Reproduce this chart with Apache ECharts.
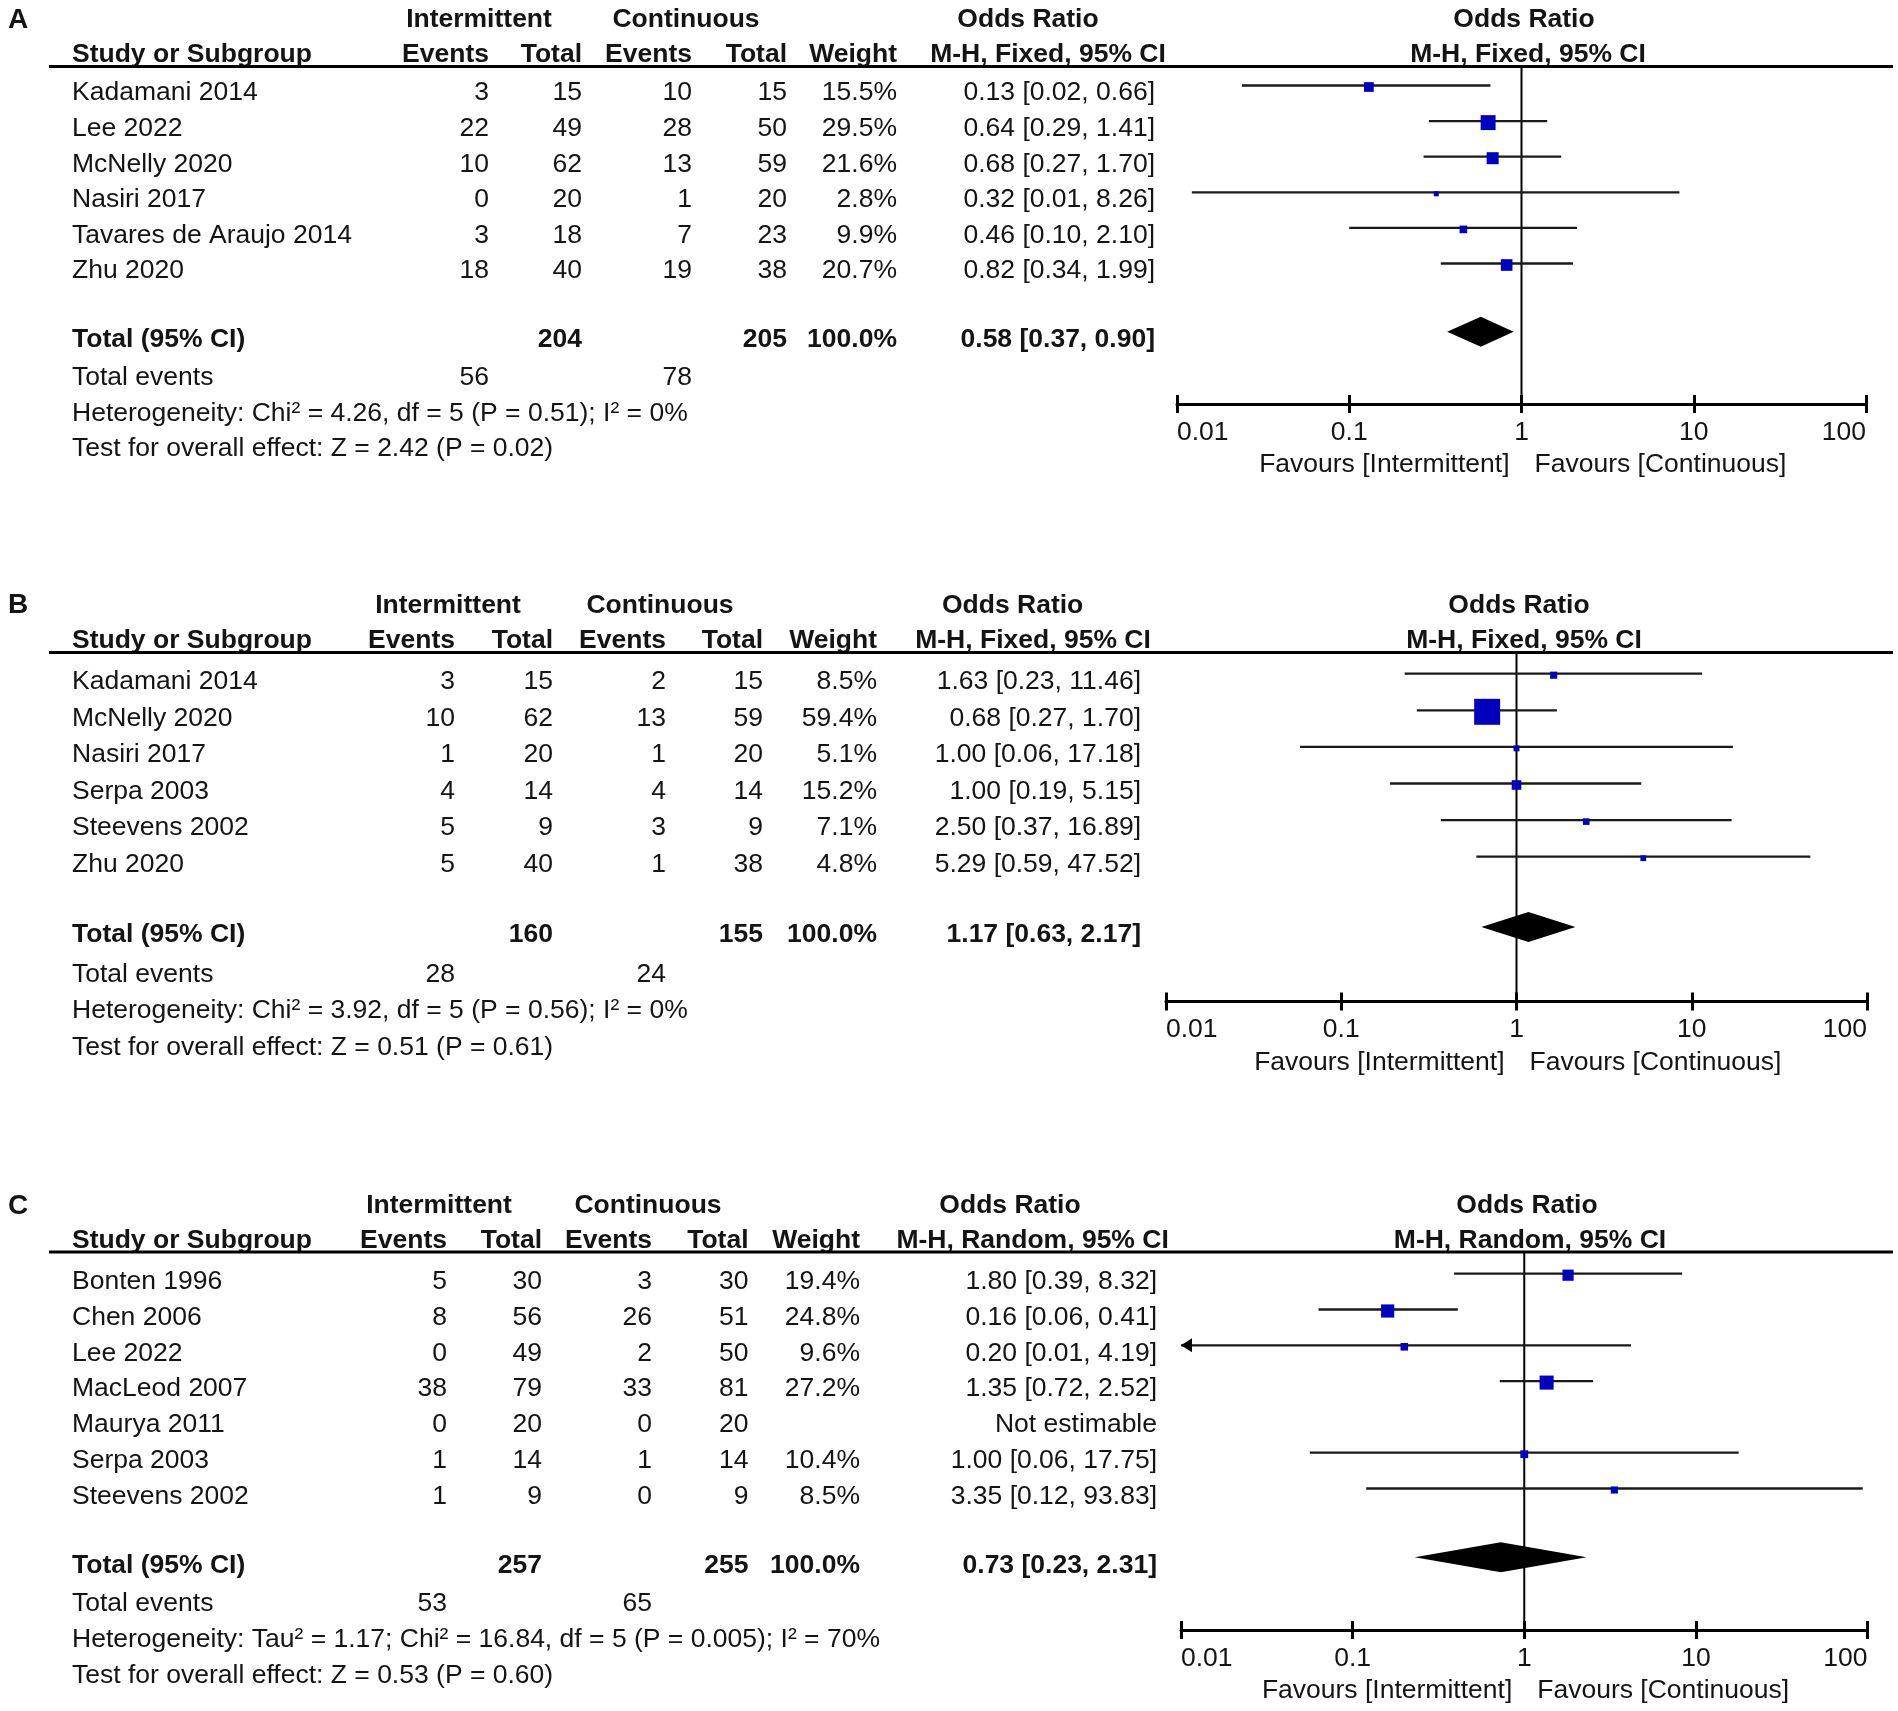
<!DOCTYPE html>
<html>
<head>
<meta charset="utf-8">
<script src="https://cdn.jsdelivr.net/npm/echarts@6/dist/echarts.min.js"></script>
<style>
html,body{margin:0;padding:0;background:#ffffff;}
#chart{width:1898px;height:1711px;}
</style>
</head>
<body>
<div id="chart"></div>
<script>
// ===================== DATA =====================
// Panel A
const studiesA = ['Kadamani 2014','Lee 2022','McNelly 2020','Nasiri 2017','Tavares de Araujo 2014','Zhu 2020'];
const intEventsA = [3,22,10,0,3,18];
const intTotalA = [15,49,62,20,18,40];
const conEventsA = [10,28,13,1,7,19];
const conTotalA = [15,50,59,20,23,38];
const weightA = [15.5,29.5,21.6,2.8,9.9,20.7];
const orA = [0.13,0.64,0.68,0.32,0.46,0.82];
const loA = [0.0238,0.29,0.27,0.0122,0.10,0.34];
const hiA = [0.66,1.41,1.70,8.26,2.10,1.99];
const totalsA = [204,205];
const totalEventsA = [56,78];
const pooledA = [0.58,0.37,0.90];
const hetA = 'Heterogeneity: Chi² = 4.26, df = 5 (P = 0.51); I² = 0%';
const testA = 'Test for overall effect: Z = 2.42 (P = 0.02)';
const methodA = 'M-H, Fixed, 95% CI';

// Panel B
const studiesB = ['Kadamani 2014','McNelly 2020','Nasiri 2017','Serpa 2003','Steevens 2002','Zhu 2020'];
const intEventsB = [3,10,1,4,5,5];
const intTotalB = [15,62,20,14,9,40];
const conEventsB = [2,13,1,4,3,1];
const conTotalB = [15,59,20,14,9,38];
const weightB = [8.5,59.4,5.1,15.2,7.1,4.8];
const orB = [1.63,0.68,1.00,1.00,2.50,5.29];
const loB = [0.23,0.27,0.0582,0.19,0.37,0.59];
const hiB = [11.46,1.70,17.18,5.15,16.89,47.52];
const totalsB = [160,155];
const totalEventsB = [28,24];
const pooledB = [1.17,0.63,2.17];
const hetB = 'Heterogeneity: Chi² = 3.92, df = 5 (P = 0.56); I² = 0%';
const testB = 'Test for overall effect: Z = 0.51 (P = 0.61)';
const methodB = 'M-H, Fixed, 95% CI';

// Panel C
const studiesC = ['Bonten 1996','Chen 2006','Lee 2022','MacLeod 2007','Maurya 2011','Serpa 2003','Steevens 2002'];
const intEventsC = [5,8,0,38,0,1,1];
const intTotalC = [30,56,49,79,20,14,9];
const conEventsC = [3,26,2,33,0,1,0];
const conTotalC = [30,51,50,81,20,14,9];
const weightC = [19.4,24.8,9.6,27.2,null,10.4,8.5];
const orC = [1.80,0.16,0.20,1.35,null,1.00,3.35];
const loC = [0.39,0.0633,0.0092,0.72,null,0.0563,0.12];
const hiC = [8.32,0.41,4.19,2.52,null,17.75,93.83];
const totalsC = [257,255];
const totalEventsC = [53,65];
const pooledC = [0.73,0.23,2.31];
const hetC = 'Heterogeneity: Tau² = 1.17; Chi² = 16.84, df = 5 (P = 0.005); I² = 70%';
const testC = 'Test for overall effect: Z = 0.53 (P = 0.60)';
const methodC = 'M-H, Random, 95% CI';

// Shared labels
const panelLetters = ['A','B','C'];
const groupHeaders = ['Intermittent','Continuous'];
const colHeaders = ['Study or Subgroup','Events','Total','Events','Total','Weight'];
const effectHeader = 'Odds Ratio';
const tickLabels = ['0.01','0.1','1','10','100'];
const favoursLabels = ['Favours [Intermittent]','Favours [Continuous]'];
const notEstimable = 'Not estimable';

// ===================== LAYOUT / STYLE =====================
const FONT = "'Liberation Sans', Arial, Helvetica, sans-serif";
const TXT = '#141414';
const BLUE = '#0000BE';
const FS = 26.5;
const NAME_X = 72;
const RULE_X0 = 49, RULE_X1 = 1893;

const layouts = [
  {letterY:20, lineY:66.5, axisY:404, x0:1177, x1:1866, row0:93, gap:35.6, off:7.5,
   cols:{ev1:489,tot1:582,ev2:692,tot2:787,wt:897,or:1155},
   hdr:{int:479,con:686,or:1028,mh:1048,ror:1524,rmh:1528}},
  {letterY:605, lineY:652.5, axisY:1001.5, x0:1166, x1:1867, row0:681.7, gap:36.6, off:8,
   cols:{ev1:455,tot1:553,ev2:666,tot2:763,wt:877,or:1141},
   hdr:{int:448,con:660,or:1012.6,mh:1033,ror:1519,rmh:1524}},
  {letterY:1206, lineY:1252, axisY:1630, x0:1181, x1:1867.5, row0:1281.7, gap:35.8, off:8,
   cols:{ev1:447,tot1:542,ev2:652,tot2:748.5,wt:860,or:1157},
   hdr:{int:439,con:648,or:1010,mh:1032.6,ror:1527,rmh:1530}}
];

const panels = [
  {studies:studiesA, ie:intEventsA, it:intTotalA, ce:conEventsA, ct:conTotalA, w:weightA, or:orA, lo:loA, hi:hiA,
   totals:totalsA, tev:totalEventsA, pooled:pooledA, het:hetA, test:testA, method:methodA},
  {studies:studiesB, ie:intEventsB, it:intTotalB, ce:conEventsB, ct:conTotalB, w:weightB, or:orB, lo:loB, hi:hiB,
   totals:totalsB, tev:totalEventsB, pooled:pooledB, het:hetB, test:testB, method:methodB},
  {studies:studiesC, ie:intEventsC, it:intTotalC, ce:conEventsC, ct:conTotalC, w:weightC, or:orC, lo:loC, hi:hiC,
   totals:totalsC, tev:totalEventsC, pooled:pooledC, het:hetC, test:testC, method:methodC}
];

const AX_MIN = 0.01, AX_MAX = 100;
const squareSize = w => 4 + 0.37 * w;
const DIAMOND_H = 30;
const ciText = (o, l, h) => o.toFixed(2) + ' [' + l.toFixed(2) + ', ' + h.toFixed(2) + ']';

function txt(x, y, text, align, bold, size) {
  return {type:'text', silent:true, style:{x:x, y:y, text:text, align:align||'left', verticalAlign:'middle',
    fontSize:size||FS, fontFamily:FONT, fontWeight:bold?'bold':'normal', fill:TXT}};
}

const grids = [], xAxes = [], yAxes = [], series = [], graphics = [];

panels.forEach((P, p) => {
  const L = layouts[p];
  const n = P.studies.length;
  const markY0 = L.row0 - L.off;
  const rmin = (L.lineY - markY0) / L.gap;
  const rmax = (L.axisY - markY0) / L.gap;
  const totalRow = n + 0.92;

  grids.push({left:L.x0, top:L.lineY, width:L.x1 - L.x0, height:L.axisY - L.lineY, outerBoundsMode:'none'});
  const baseX = {gridIndex:p, type:'log', logBase:10, min:AX_MIN, max:AX_MAX, position:'bottom',
    splitLine:{show:false}, minorTick:{show:false}, minorSplitLine:{show:false}};
  xAxes.push(Object.assign({}, baseX, {
    axisLine:{show:true, onZero:false, lineStyle:{color:'#000', width:3}},
    axisTick:{show:false},
    axisLabel:{show:true, margin:15, fontSize:FS, fontFamily:FONT, color:TXT,
      alignMinLabel:'left', alignMaxLabel:'right',
      formatter: v => tickLabels[Math.round(Math.log10(v)) + 2]}
  }));
  xAxes.push(Object.assign({}, baseX, {
    offset:-9,
    axisLine:{show:false, onZero:false},
    axisTick:{show:true, inside:false, length:18, lineStyle:{color:'#000', width:3}},
    axisLabel:{show:false}
  }));
  yAxes.push({gridIndex:p, type:'value', inverse:true, min:rmin, max:rmax, show:false});

  const xi = p * 2, yi = p;

  // reference line at OR = 1
  series.push({type:'line', xAxisIndex:xi, yAxisIndex:yi, silent:true, symbol:'none', z:2,
    lineStyle:{color:'#000', width:2}, data:[[1, rmin], [1, rmax]], animation:false});

  // study CIs and squares
  const forestData = [];
  P.or.forEach((o, i) => { if (o != null) forestData.push([o, i, P.lo[i], P.hi[i], P.w[i]]); });
  series.push({type:'custom', xAxisIndex:xi, yAxisIndex:yi, silent:true, z:3, clip:false,
    encode:{x:0, y:1}, data:forestData, animation:false,
    renderItem:(params, api) => {
      const o = api.value(0), r = api.value(1), lo = api.value(2), hi = api.value(3), w = api.value(4);
      const pL = api.coord([Math.max(lo, AX_MIN), r]);
      const pH = api.coord([Math.min(hi, AX_MAX), r]);
      const pC = api.coord([o, r]);
      const s = squareSize(w);
      const ch = [
        {type:'line', shape:{x1:pL[0], y1:pL[1], x2:pH[0], y2:pH[1]}, style:{stroke:'#1a1a1a', lineWidth:2.3}},
        {type:'rect', shape:{x:pC[0] - s/2, y:pC[1] - s/2 + 1.5, width:s, height:s}, style:{fill:BLUE}}
      ];
      if (lo < AX_MIN) {
        ch.push({type:'polygon', shape:{points:[[pL[0], pL[1]], [pL[0] + 11, pL[1] - 7], [pL[0] + 11, pL[1] + 7]]}, style:{fill:'#000'}});
      }
      if (hi > AX_MAX) {
        ch.push({type:'polygon', shape:{points:[[pH[0], pH[1]], [pH[0] - 11, pH[1] - 7], [pH[0] - 11, pH[1] + 7]]}, style:{fill:'#000'}});
      }
      return {type:'group', children:ch};
    }});

  // pooled diamond
  series.push({type:'custom', xAxisIndex:xi, yAxisIndex:yi, silent:true, z:3, clip:false,
    encode:{x:0, y:1}, data:[[P.pooled[0], totalRow, P.pooled[1], P.pooled[2]]], animation:false,
    renderItem:(params, api) => {
      const o = api.value(0), r = api.value(1);
      const a = api.coord([api.value(2), r]), c = api.coord([o, r]), b = api.coord([api.value(3), r]);
      return {type:'polygon', shape:{points:[[a[0], a[1]], [c[0], c[1] - DIAMOND_H/2], [b[0], b[1]], [c[0], c[1] + DIAMOND_H/2]]},
        style:{fill:'#000'}};
    }});

  // table rows
  const C = L.cols;
  const rows = [];
  P.studies.forEach((name, i) => {
    const cells = [
      {x:NAME_X, t:name, a:'left'},
      {x:C.ev1, t:String(P.ie[i]), a:'right'},
      {x:C.tot1, t:String(P.it[i]), a:'right'},
      {x:C.ev2, t:String(P.ce[i]), a:'right'},
      {x:C.tot2, t:String(P.ct[i]), a:'right'}
    ];
    if (P.w[i] != null) cells.push({x:C.wt, t:P.w[i].toFixed(1) + '%', a:'right'});
    cells.push({x:C.or, t:P.or[i] != null ? ciText(P.or[i], P.lo[i], P.hi[i]) : notEstimable, a:'right'});
    rows.push({r:i, bold:false, cells:cells});
  });
  rows.push({r:totalRow, bold:true, cells:[
    {x:NAME_X, t:'Total (95% CI)', a:'left'},
    {x:C.tot1, t:String(P.totals[0]), a:'right'},
    {x:C.tot2, t:String(P.totals[1]), a:'right'},
    {x:C.wt, t:'100.0%', a:'right'},
    {x:C.or, t:ciText(P.pooled[0], P.pooled[1], P.pooled[2]), a:'right'}
  ]});
  rows.push({r:n + 2, bold:false, cells:[
    {x:NAME_X, t:'Total events', a:'left'},
    {x:C.ev1, t:String(P.tev[0]), a:'right'},
    {x:C.ev2, t:String(P.tev[1]), a:'right'}
  ]});
  rows.push({r:n + 3, bold:false, cells:[{x:NAME_X, t:P.het, a:'left'}]});
  rows.push({r:n + 4, bold:false, cells:[{x:NAME_X, t:P.test, a:'left'}]});
  // favours labels under the axis, relative to OR = 1
  rows.push({r:rmax, bold:false, fav:true, cells:[
    {dx:-12, t:favoursLabels[0], a:'right'},
    {dx:13, t:favoursLabels[1], a:'left'}
  ]});

  series.push({type:'custom', xAxisIndex:xi, yAxisIndex:yi, silent:true, z:4, clip:false,
    encode:{x:0, y:1}, data:rows.map((row, k) => [1, row.r, k]), animation:false,
    renderItem:(params, api) => {
      const row = rows[api.value(2)];
      const pt = api.coord([1, api.value(1)]);
      const y = row.fav ? pt[1] + 61 : pt[1] + L.off;
      return {type:'group', children:row.cells.map(c =>
        txt(row.fav ? pt[0] + c.dx : c.x, y, c.t, c.a, row.bold))};
    }});

  // headers (static layout text)
  const H = L.hdr;
  const y1 = L.lineY - 46.5, y2 = L.lineY - 11.5;
  graphics.push(txt(18, L.letterY, panelLetters[p], 'center', true, 28));
  graphics.push(txt(H.int, y1, groupHeaders[0], 'center', true));
  graphics.push(txt(H.con, y1, groupHeaders[1], 'center', true));
  graphics.push(txt(H.or, y1, effectHeader, 'center', true));
  graphics.push(txt(H.ror, y1, effectHeader, 'center', true));
  graphics.push(txt(NAME_X, y2, colHeaders[0], 'left', true));
  graphics.push(txt(C.ev1, y2, colHeaders[1], 'right', true));
  graphics.push(txt(C.tot1, y2, colHeaders[2], 'right', true));
  graphics.push(txt(C.ev2, y2, colHeaders[3], 'right', true));
  graphics.push(txt(C.tot2, y2, colHeaders[4], 'right', true));
  graphics.push(txt(C.wt, y2, colHeaders[5], 'right', true));
  graphics.push(txt(H.mh, y2, P.method, 'center', true));
  graphics.push(txt(H.rmh, y2, P.method, 'center', true));
  graphics.push({type:'line', silent:true, z:10,
    shape:{x1:RULE_X0, y1:L.lineY, x2:RULE_X1, y2:L.lineY}, style:{stroke:'#000', lineWidth:2.8}});
});

const chart = echarts.init(document.getElementById('chart'), null, {renderer:'canvas'});
chart.setOption({
  backgroundColor:'#ffffff',
  animation:false,
  grid:grids,
  xAxis:xAxes,
  yAxis:yAxes,
  series:series,
  graphic:{elements:graphics}
});
</script>
</body>
</html>
